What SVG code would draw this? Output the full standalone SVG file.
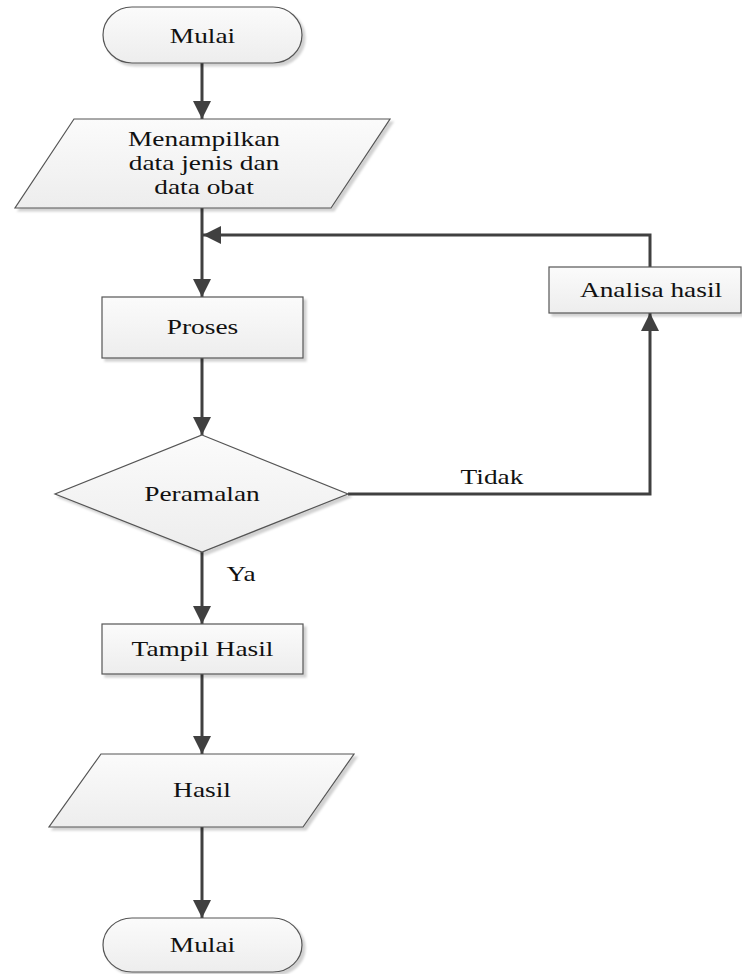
<svg xmlns="http://www.w3.org/2000/svg" width="742" height="974" viewBox="0 0 742 974">
<defs>
<linearGradient id="g" x1="0" y1="0" x2="0" y2="1">
<stop offset="0" stop-color="#fbfbfb"/>
<stop offset="1" stop-color="#ededed"/>
</linearGradient>
<filter id="sh" x="-10%" y="-10%" width="125%" height="130%">
<feDropShadow dx="3" dy="3" stdDeviation="1.2" flood-color="#000" flood-opacity="0.18"/>
</filter>
<marker id="ah" markerUnits="userSpaceOnUse" markerWidth="18" markerHeight="18" refX="18" refY="9" orient="auto">
<path d="M0,0 L18,9 L0,18 z" fill="#404040"/>
</marker>
</defs>
<style>
.shape{fill:url(#g);stroke:#555;stroke-width:1.2;filter:url(#sh)}
.conn{fill:none;stroke:#404040;stroke-width:3;marker-end:url(#ah)}
.line{fill:none;stroke:#404040;stroke-width:3}
text{font-family:"Liberation Serif","Times New Roman",serif;font-size:20px;fill:#111;text-anchor:middle}
</style>
<g id="connectors">
<path class="conn" d="M202,63 L202,119"/>
<path class="conn" d="M202,208 L202,297"/>
<path class="conn" d="M650,267 L650,235 L203,235"/>
<path class="conn" d="M202,358 L202,435"/>
<path class="conn" d="M348,494 L650,494 L650,313"/>
<path class="conn" d="M202,552 L202,624"/>
<path class="conn" d="M202,674 L202,754"/>
<path class="conn" d="M202,827 L202,918"/>
<text transform="translate(492,484) scale(1.37,1)">Tidak</text>
<text transform="translate(241,581) scale(1.37,1)">Ya</text>
</g>
<g id="start">
<rect class="shape" x="103" y="7" width="199" height="56" rx="29" ry="28"/>
<text transform="translate(202.5,43) scale(1.37,1)">Mulai</text>
</g>
<g id="input">
<polygon class="shape" points="74,119 390,119 331,208 15,208"/>
<text transform="translate(204,146) scale(1.37,1)">Menampilkan</text>
<text transform="translate(204,170) scale(1.37,1)">data jenis dan</text>
<text transform="translate(204,194) scale(1.37,1)">data obat</text>
</g>
<g id="proses">
<rect class="shape" x="102" y="297" width="201" height="61"/>
<text transform="translate(202.5,334) scale(1.37,1)">Proses</text>
</g>
<g id="analisa">
<rect class="shape" x="549" y="267" width="192" height="46"/>
<text transform="translate(651,297) scale(1.37,1)">Analisa hasil</text>
</g>
<g id="peramalan">
<polygon class="shape" points="202,435 348,494 202,552 55,494"/>
<text transform="translate(202,501) scale(1.37,1)">Peramalan</text>
</g>
<g id="tampil">
<rect class="shape" x="102" y="624" width="201" height="50"/>
<text transform="translate(202.5,656) scale(1.37,1)">Tampil Hasil</text>
</g>
<g id="hasil">
<polygon class="shape" points="101,754 354,754 303,827 49,827"/>
<text transform="translate(202,797) scale(1.37,1)">Hasil</text>
</g>
<g id="end">
<rect class="shape" x="103" y="918" width="199" height="54" rx="29" ry="27"/>
<text transform="translate(202.5,952) scale(1.37,1)">Mulai</text>
</g>
</svg>
